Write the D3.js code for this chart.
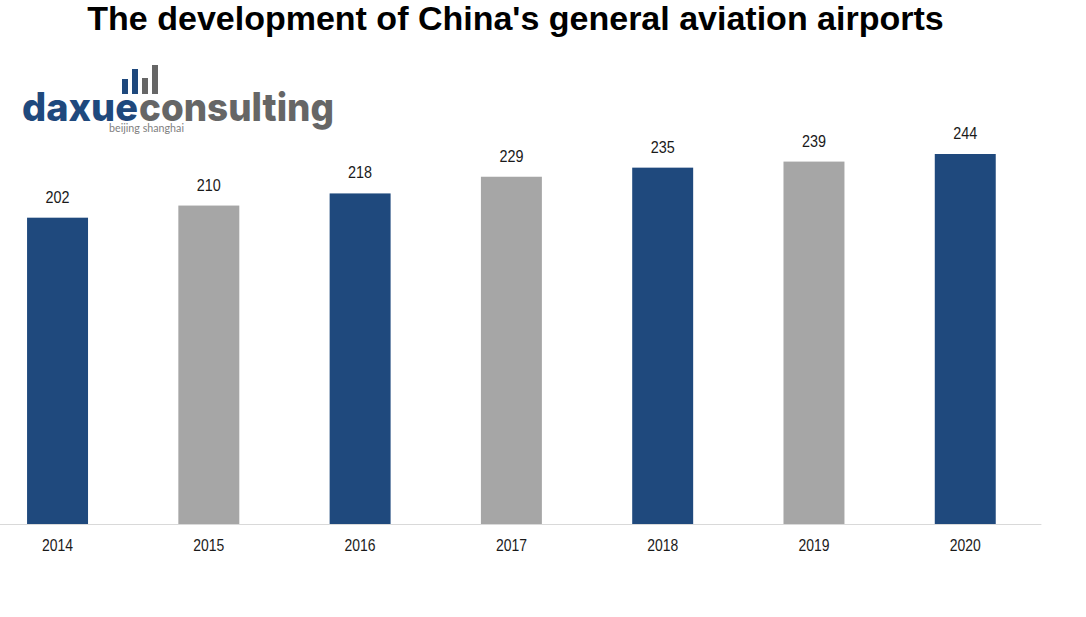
<!DOCTYPE html>
<html><head><meta charset="utf-8">
<script src="https://cdn.jsdelivr.net/npm/d3@7"></script>
<style>html,body{margin:0;padding:0;background:#fff;overflow:hidden}svg{display:block}</style>
</head><body><svg id="c" width="1086" height="617"></svg>
<script>
const years=["2014","2015","2016","2017","2018","2019","2020"];
const airports=[202,210,218,229,235,239,244];
const barColors=["#1f497d","#a6a6a6"];
const titleText="The development of China's general aviation airports";
const logoBars=[{x:0,h:15,c:"#1f497d"},{x:1,h:25,c:"#1f497d"},{x:2,h:16,c:"#666666"},{x:3,h:29,c:"#666666"}];

const svg=d3.select("#c");
const x=d3.scaleBand().domain(years).range([-18.1,1040.9]).paddingInner(0.597).paddingOuter(0.2985);
const y=d3.scaleLinear().domain([0,244]).range([524,154]);
const font="Liberation Sans, Arial, sans-serif";

svg.append("text").attr("x",515.5).attr("y",30).attr("text-anchor","middle")
  .attr("font-family",font).attr("font-weight","bold").attr("font-size",34).attr("fill","#000").text(titleText);

svg.selectAll("rect.bar").data(airports).join("rect").attr("class","bar")
  .attr("x",(d,i)=>x(years[i])).attr("width",x.bandwidth())
  .attr("y",d=>y(d)).attr("height",d=>y(0)-y(d))
  .attr("fill",(d,i)=>barColors[i%2]);

svg.selectAll("text.val").data(airports).join("text").attr("class","val")
  .attr("x",(d,i)=>x(years[i])+x.bandwidth()/2).attr("y",d=>y(d)-15)
  .attr("text-anchor","middle").attr("font-family",font).attr("font-size",16.5).attr("fill","#1a1a1a")
  .attr("textLength",24).attr("lengthAdjust","spacingAndGlyphs").text(d=>d);

const ax=svg.append("g").attr("transform","translate(0,524)").call(d3.axisBottom(x).tickSize(0).tickPadding(15));
ax.select(".domain").attr("stroke","#d9d9d9").attr("stroke-width",1);
ax.selectAll("text").attr("font-family",font).attr("font-size",16.5).attr("fill","#1a1a1a")
  .attr("textLength",31).attr("lengthAdjust","spacingAndGlyphs");

// logo
const logo=svg.append("g");
const lx=d3.scaleLinear().domain([0,1]).range([122,132]);
logo.selectAll("rect").data(logoBars).join("rect")
  .attr("x",d=>lx(d.x)).attr("width",6).attr("y",d=>94-d.h).attr("height",d=>d.h).attr("fill",d=>d.c);
const logoFont="Inter, Roboto, sans-serif";
logo.append("text").attr("x",22).attr("y",121).attr("font-family",logoFont).attr("font-weight",800)
  .attr("font-size",39).attr("fill","#1f497d").attr("textLength",116).attr("lengthAdjust","spacingAndGlyphs").text("daxue");
logo.append("text").attr("x",139).attr("y",121).attr("font-family",logoFont).attr("font-weight",800)
  .attr("font-size",39).attr("fill","#666666").attr("textLength",195).attr("lengthAdjust","spacingAndGlyphs").text("consulting");
logo.append("text").attr("x",109).attr("y",131.5).attr("font-family","Lato, sans-serif").attr("font-size",11.5)
  .attr("fill","#808080").attr("textLength",75).attr("lengthAdjust","spacingAndGlyphs").text("beijing shanghai");
</script></body></html>
